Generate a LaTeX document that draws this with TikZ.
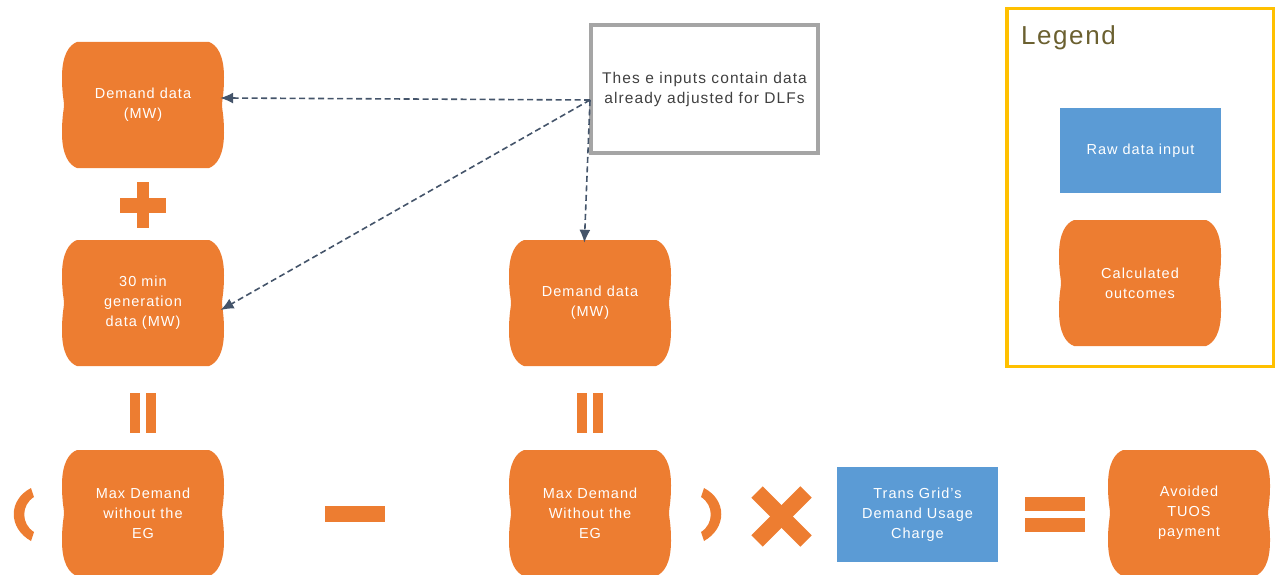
\documentclass[tikz,border=0pt]{standalone}
\usepackage{fontspec}
\setmainfont{Liberation Sans}[LetterSpace=7]
\newfontfamily\legfont{Liberation Sans}[LetterSpace=6]
\usetikzlibrary{arrows.meta}
\definecolor{ora}{HTML}{ED7D31}
\definecolor{blu}{HTML}{5B9BD5}
\definecolor{gry}{HTML}{A5A5A5}
\definecolor{gld}{HTML}{FFC000}
\definecolor{dsh}{HTML}{44546A}
\definecolor{legtxt}{HTML}{6B6030}
\definecolor{notetxt}{HTML}{404040}
\tikzset{
  outnode/.style={inner sep=0pt, minimum width=160pt, minimum height=126pt,
    text=white, align=center, font=\fontsize{14.5}{20}\selectfont},
  rawbox/.style={fill=blu, inner sep=0pt, text=white, align=center,
    font=\fontsize{14.5}{20}\selectfont},
  opsym/.style={fill=ora},
  notebox/.style={draw=gry, line width=3.5pt, inner sep=0pt, align=center,
    text=notetxt, font=\fontsize{15.5}{20}\selectfont},
  legbox/.style={draw=gld, line width=3.5pt, inner sep=0pt},
  dasharrow/.style={draw=dsh, line width=1.6pt, dash pattern=on 6pt off 3.5pt,
    -{Latex[length=13pt,width=11pt]}, shorten >=-3pt},
}
\newcommand\tapeshape[2]{%
  \fill[ora,shift={(#1,#2)}] (-66,63) -- (66,63)
    .. controls (74,60) and (81,50) .. (81,28)
    .. controls (81,10) and (79,5) .. (79,0)
    .. controls (79,-5) and (81,-10) .. (81,-28)
    .. controls (81,-50) and (74,-60) .. (66,-63)
    -- (-66,-63)
    .. controls (-74,-60) and (-81,-50) .. (-81,-28)
    .. controls (-81,-10) and (-79,-5) .. (-79,0)
    .. controls (-79,5) and (-81,10) .. (-81,28)
    .. controls (-81,50) and (-74,60) .. (-66,63) -- cycle;}
\newcommand\tapenode[4]{\tapeshape{#2}{#3}\node[outnode] (#1) at (#2,#3) {#4};}
\begin{document}
\begin{tikzpicture}[x=1pt,y=1pt]
\useasboundingbox (0,0) rectangle (1276,-575);
% orange calculated nodes
\tapenode{demA}{143}{-105}{Demand data\\(MW)}
\tapenode{gen}{143}{-303}{30 min\\generation\\data (MW)}
\tapenode{maxA}{143}{-513}{Max Demand\\without the\\EG}
\tapenode{demB}{590}{-303}{Demand data\\(MW)}
\tapenode{maxB}{590}{-513}{Max Demand\\Without the\\EG}
\tapenode{tuos}{1189}{-513}{Avoided\\TUOS\\payment}
% raw input
\node[rawbox, minimum width=161pt, minimum height=95pt] (charge) at (917.5,-514.5)
  {Trans Grid's\\Demand Usage\\Charge};
% operators
\fill[opsym] (120,-198) rectangle (166,-213);
\fill[opsym] (137,-182) rectangle (149,-228);
\fill[opsym] (130,-393) rectangle (140,-433);
\fill[opsym] (146,-393) rectangle (156,-433);
\fill[opsym] (577,-393) rectangle (587,-433);
\fill[opsym] (593,-393) rectangle (603,-433);
\fill[opsym] (325,-506) rectangle (385,-522);
\fill[opsym] (1025,-497) rectangle (1085,-511);
\fill[opsym] (1025,-518) rectangle (1085,-532);
\fill[opsym] (31,-488) .. controls (8,-500) and (8,-528) .. (31,-541)
  -- (34,-532) .. controls (21,-524) and (21,-505) .. (34,-497) -- cycle;
\fill[opsym] (704,-488) .. controls (727,-500) and (727,-528) .. (704,-541)
  -- (701,-532) .. controls (714,-524) and (714,-505) .. (701,-497) -- cycle;
\draw[ora, line width=16pt] (757,-492) -- (806,-541);
\draw[ora, line width=16pt] (806,-492) -- (757,-541);
% note box
\node[notebox, minimum width=227pt, minimum height=128pt] (note) at (704.5,-89)
  {Thes e inputs contain data\\already adjusted for DLFs};
\coordinate (src) at (590,-100);
\draw[dasharrow] (src) -- (demA.5);
\draw[dasharrow] (src) -- (gen.-4);
\draw[dasharrow] (src) -- (demB.95);
% legend
\node[legbox, minimum width=266.5pt, minimum height=357.5pt] (legend) at (1140,-187.5) {};
\node[anchor=base west, inner sep=0pt, text=legtxt, font=\legfont\fontsize{26}{30}\selectfont]
  (legtitle) at (1021,-45) {Legend};
\node[rawbox, minimum width=161pt, minimum height=85pt] (legraw) at (1140.5,-150.5)
  {Raw data input};
\tapenode{legcalc}{1140}{-283}{Calculated\\outcomes}
\end{tikzpicture}
\end{document}
